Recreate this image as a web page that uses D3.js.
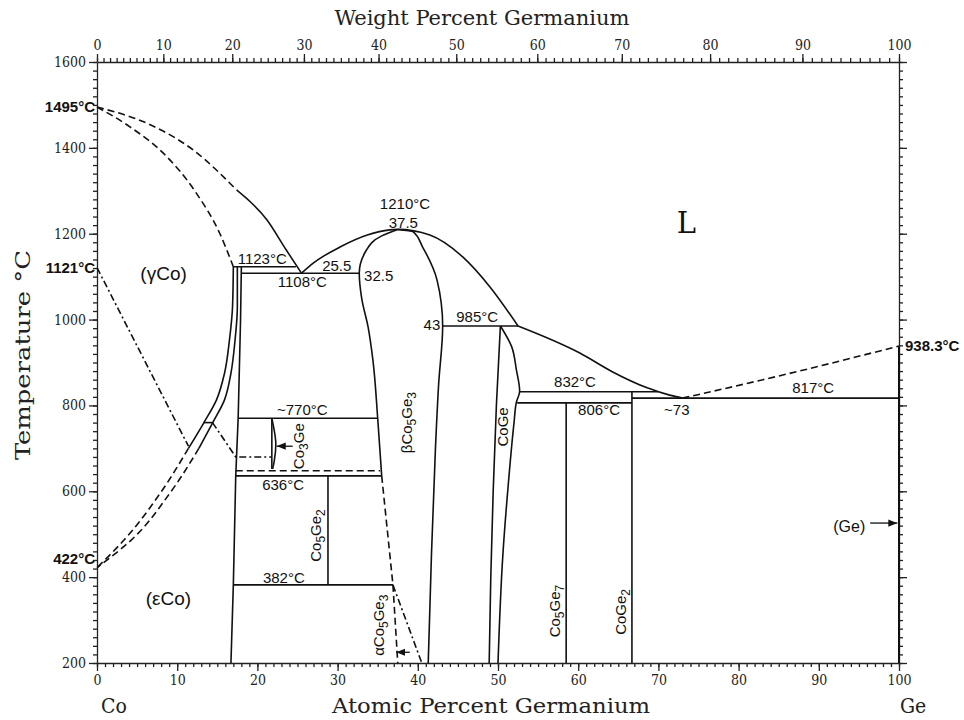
<!DOCTYPE html>
<html>
<head>
<meta charset="utf-8">
<script src="https://cdn.jsdelivr.net/npm/d3@7"></script>
<style>
  body { margin: 0; background: #fff; }
  svg { display: block; }
  .tick text { font-family: "DejaVu Serif Condensed", "DejaVu Serif", serif; font-size: 14px; fill: #222; }
  .domain, .tick line { stroke: #222; stroke-width: 1.3; }
  .ttl { font-family: "DejaVu Serif Condensed", "DejaVu Serif", serif; font-size: 21px; fill: #222; }
  .lbl { font-family: "Liberation Sans", Arial, sans-serif; font-size: 15px; fill: #111; }
  .edge { font-family: "Liberation Sans", Arial, sans-serif; font-size: 15px; font-weight: bold; fill: #111; }
</style>
</head>
<body>
<div id="chart"></div>
<script>
// axis ticks
var atTicks = d3.range(0, 101, 10)
var wtTicks = d3.range(0, 101, 10)
var tempTicks = d3.range(200, 1601, 200)

// phase boundaries, [atomic % Ge, temperature C]
var liquidusCoDashed = [[0,1495],[6.5,1455],[12,1395],[17.4,1302]]
var liquidusCo = [[17.4,1302],[21.2,1232],[23.6,1162],[25.5,1108]]
var solidusCo = [[0,1495],[4.1,1449],[8.3,1387],[12.4,1294],[15.3,1201],[17.0,1123]]
var liquidusMid = [[25.5,1108],[27,1132],[30.3,1169],[33.7,1197],[36.5,1209],[37.5,1210],[41.5,1197],[45.6,1146],[49,1076],[52.5,985]]
var liquidusGe = [[52.5,985],[60.2,922],[64.3,878],[68.6,841],[71.4,824],[73,817]]
var liquidusGeDashed = [[73,817],[86,873],[100,938.3]]
var betaLeft = [[37.5,1210],[35.5,1195],[33.6,1162],[32.7,1108],[33.0,1050],[33.8,983],[34.4,906],[35.0,770],[35.5,636]]
var betaLeftDashed = [[35.5,636],[36.9,382]]
var alphaDashed = [[36.9,382],[37.5,200]]
var alphaDashDot = [[36.9,382],[40.5,200]]
var betaRight = [[37.5,1210],[39.4,1205],[40.6,1169],[42.4,1092],[43.1,985],[42.6,850],[42.2,700],[41.7,450],[41.3,200]]
var coGeLeft = [[50.3,985],[49.8,800],[49.4,600],[49.1,400],[48.9,200]]
var coGeRight = [[50.3,985],[51.7,937],[52.3,882],[52.7,833],[52.3,808],[52.0,760],[51.3,620],[50.6,450],[50.0,200]]
var wall18 = [[18.0,1123],[17.9,1000],[17.6,770],[17.3,636],[17.0,382],[16.7,200]]
var gammaSolvusA = [[17.0,1123],[16.9,1030],[16.5,950],[15.9,875],[14.9,813],[13.3,759],[11.4,700]]
var gammaSolvusB = [[17.5,1123],[17.5,1030],[17.2,950],[16.7,875],[15.9,813],[14.4,759],[12.7,700]]
var gammaDashedA = [[11.4,700],[7.9,596],[3.4,487],[0,422]]
var gammaDashedB = [[12.7,700],[9.1,596],[4.3,487],[0,422]]
var magneticCo = [[0,1121],[11.4,705]]
var eutectoidCo = [[14.4,760],[17.3,680],[21.8,680]]
var co3GeLens = [[21.8,770],[22.2,730],[22.3,710],[22.1,670],[21.9,652]]
var co3GeLine = [[21.8,770],[21.8,652]]
var geLine = [[100,938.3],[100,200]]

// isotherms
var isoT    = [1123, 1108, 985,  832,  806,  817, 770,  636,  382,  760]
var isoFrom = [17.0, 18.0, 43.1, 52.7, 52.4, 66.7, 17.6, 17.3, 17.0, 13.3]
var isoTo   = [24.8, 32.7, 52.5, 70.0, 66.7, 100,  35.0, 35.5, 36.9, 14.4]
var isoDashedT = [648], isoDashedFrom = [17.3], isoDashedTo = [35.3]

// line compounds
var compoundX   = [28.8, 58.5, 66.7]
var compoundTop = [636, 806, 832]
var compoundBot = [382, 200, 200]

var width = 964, height = 720
var svg = d3.select("#chart").append("svg").attr("width", width).attr("height", height)

var x = d3.scaleLinear().domain([0, 100]).range([97, 899])
var y = d3.scaleLinear().domain([200, 1600]).range([663, 62])

// weight % -> atomic % (Co 58.933, Ge 72.63)
function toAtomic(w) {
  var ge = w / 72.63, co = (100 - w) / 58.933
  return 100 * ge / (ge + co)
}
var wtAll = d3.range(0, 101, 1)
var xw = d3.scaleLinear().domain(wtAll).range(wtAll.map(function(w){ return x(toAtomic(w)) }))

// minor ticks first, then major with labels
function minor(g, axis) { g.call(axis.tickFormat("")).select(".domain").remove() }
svg.append("g").attr("transform", "translate(0,663)").call(function(g){ minor(g, d3.axisBottom(x).tickValues(d3.range(0,101,1)).tickSize(4)) })
svg.append("g").attr("transform", "translate(0,62)").call(function(g){ minor(g, d3.axisTop(xw).tickValues(wtAll).tickSize(4)) })
svg.append("g").attr("transform", "translate(97,0)").call(function(g){ minor(g, d3.axisLeft(y).tickValues(d3.range(200,1601,20)).tickSize(4)) })
svg.append("g").attr("transform", "translate(899,0)").call(function(g){ minor(g, d3.axisRight(y).tickValues(d3.range(200,1601,20)).tickSize(4)) })

var fmt = d3.format("d")
svg.append("g").attr("transform", "translate(0,663)")
  .call(d3.axisBottom(x).tickValues(atTicks).tickFormat(fmt).tickSize(8).tickSizeOuter(0).tickPadding(4))
svg.append("g").attr("transform", "translate(0,62)")
  .call(d3.axisTop(xw).tickValues(wtTicks).tickFormat(fmt).tickSize(8).tickSizeOuter(0).tickPadding(4))
svg.append("g").attr("transform", "translate(97,0)")
  .call(d3.axisLeft(y).tickValues(tempTicks).tickFormat(fmt).tickSize(8).tickSizeOuter(0).tickPadding(3))
svg.append("g").attr("transform", "translate(899,0)")
  .call(d3.axisRight(y).tickValues(tempTicks).tickSize(8).tickSizeOuter(0).tickFormat(""))

// axis titles
svg.append("text").attr("class", "ttl").attr("x", 482).attr("y", 25).attr("text-anchor", "middle")
  .attr("textLength", 295).attr("lengthAdjust", "spacingAndGlyphs").text("Weight Percent Germanium")
svg.append("text").attr("class", "ttl").attr("x", 491).attr("y", 713).attr("text-anchor", "middle")
  .attr("textLength", 318).attr("lengthAdjust", "spacingAndGlyphs").text("Atomic Percent Germanium")
svg.append("text").attr("class", "ttl").attr("x", 101).attr("y", 713).text("Co")
svg.append("text").attr("class", "ttl").attr("x", 900).attr("y", 713).text("Ge")
svg.append("text").attr("class", "ttl").attr("transform", "translate(30,355) rotate(-90)").attr("text-anchor", "middle")
  .attr("textLength", 210).attr("lengthAdjust", "spacingAndGlyphs").text("Temperature °C")

// boundaries
function gen(curve) {
  return d3.line().curve(curve).x(function(d){ return x(d[0]) }).y(function(d){ return y(d[1]) })
}
var line = gen(d3.curveLinear), alongX = gen(d3.curveMonotoneX), alongY = gen(d3.curveMonotoneY)

var plot = svg.append("g").attr("fill", "none").attr("stroke", "#111").attr("stroke-width", 1.6)

function draw(data, g, dash) {
  var p = plot.append("path").attr("d", g(data))
  if (dash) p.attr("stroke-dasharray", dash)
  return p
}
var DASH = "7,4", DOTDASH = "7,3,2,3"

draw(liquidusCoDashed, alongX, DASH)
draw(liquidusCo, alongX)
draw(solidusCo, alongX, DASH)
draw(liquidusMid, alongX)
draw(liquidusGe, alongX)
draw(liquidusGeDashed, alongX, DASH)
draw(betaLeft, alongY)
draw(betaLeftDashed, line, DASH)
draw(alphaDashed, line, DASH)
draw(alphaDashDot, line, DOTDASH)
draw(betaRight, alongY)
draw(coGeLeft, alongY)
draw(coGeRight, alongY)
draw(wall18, line)
draw(gammaSolvusA, alongY)
draw(gammaSolvusB, alongY)
draw(gammaDashedA, alongY, DASH)
draw(gammaDashedB, alongY, DASH)
draw(magneticCo, line, DOTDASH)
draw(eutectoidCo, line, DOTDASH)
draw(co3GeLens, alongY)
draw(co3GeLine, line)
draw(geLine, line).attr("stroke-width", 2)

isoT.forEach(function(t, i){
  plot.append("line").attr("x1", x(isoFrom[i])).attr("x2", x(isoTo[i])).attr("y1", y(t)).attr("y2", y(t))
})
isoDashedT.forEach(function(t, i){
  plot.append("line").attr("x1", x(isoDashedFrom[i])).attr("x2", x(isoDashedTo[i])).attr("y1", y(t)).attr("y2", y(t))
    .attr("stroke-dasharray", DASH)
})
compoundX.forEach(function(c, i){
  plot.append("line").attr("x1", x(c)).attr("x2", x(c)).attr("y1", y(compoundTop[i])).attr("y2", y(compoundBot[i]))
})

// arrows
svg.append("defs").append("marker").attr("id", "head").attr("viewBox", "0 0 10 10")
  .attr("refX", 10).attr("refY", 5).attr("markerWidth", 7).attr("markerHeight", 7).attr("orient", "auto")
  .append("path").attr("d", "M0,1L10,5L0,9Z").attr("fill", "#111")
var arrowFrom = [[24.4,705],[39.0,225],[96.4,526]]
var arrowTo   = [[22.4,705],[37.3,225],[99.8,526]]
arrowFrom.forEach(function(a, i){
  svg.append("line").attr("x1", x(a[0])).attr("y1", y(a[1])).attr("x2", x(arrowTo[i][0])).attr("y2", y(arrowTo[i][1]))
    .attr("stroke", "#111").attr("stroke-width", 1.3).attr("marker-end", "url(#head)")
})

// edge temperatures
var edgeText = ["1495°C", "1121°C", "422°C"]
var edgeT = [1495, 1121, 422]
var edgeDy = [5, 5, -4]
edgeText.forEach(function(s, i){
  svg.append("text").attr("class", "edge").attr("x", 95).attr("y", y(edgeT[i]) + edgeDy[i])
    .attr("text-anchor", "end").text(s)
})
svg.append("text").attr("class", "edge").attr("x", 905).attr("y", y(938.3) + 5).text("938.3°C")

// field and point labels: [text, at%, T, anchor]
var labels = [
  ["1210°C", 38.4, 1257, "middle"], ["37.5", 38.2, 1214, "middle"],
  ["1123°C", 20.6, 1129, "middle"], ["25.5", 29.9, 1114, "middle"],
  ["1108°C", 25.6, 1077, "middle"], ["32.5", 33.3, 1090, "start"],
  ["43", 42.8, 976, "end"], ["985°C", 47.4, 994, "middle"],
  ["832°C", 59.6, 843, "middle"], ["806°C", 62.6, 778, "middle"],
  ["~73", 72.3, 777, "middle"], ["817°C", 89.3, 829, "middle"],
  ["~770°C", 25.6, 777, "middle"], ["636°C", 23.2, 603, "middle"],
  ["382°C", 23.3, 386, "middle"]
]
labels.forEach(function(l){
  svg.append("text").attr("class", "lbl").attr("x", x(l[1])).attr("y", y(l[2]))
    .attr("text-anchor", l[3]).text(l[0])
})
svg.append("text").attr("class", "lbl").attr("x", x(8.3)).attr("y", y(1092)).attr("text-anchor", "middle")
  .style("font-size", "19px").text("(γCo)")
svg.append("text").attr("class", "lbl").attr("x", x(8.9)).attr("y", y(335)).attr("text-anchor", "middle")
  .style("font-size", "19px").text("(εCo)")
svg.append("text").attr("class", "lbl").attr("x", x(72.3)).attr("y", y(1202))
  .style("font-family", "DejaVu Serif, serif").style("font-size", "29px").text("L")
svg.append("text").attr("class", "lbl").attr("x", x(93.8)).attr("y", y(506)).attr("text-anchor", "middle")
  .style("font-size", "16px").text("(Ge)")

// rotated compound labels: [parts, at%, T]
var compounds = [
  [["Co","3","Ge"], 25.8, 705],
  [["Co","5","Ge","2"], 27.9, 497],
  [["βCo","5","Ge","3"], 39.3, 760],
  [["αCo","5","Ge","3"], 35.8, 288],
  [["CoGe"], 51.2, 750],
  [["Co","5","Ge","7"], 57.7, 321],
  [["CoGe","2"], 66.0, 319]
]
compounds.forEach(function(c){
  var t = svg.append("text").attr("class", "lbl").attr("text-anchor", "middle")
    .attr("transform", "translate(" + x(c[1]) + "," + y(c[2]) + ") rotate(-90)")
  c[0].forEach(function(part, j){
    var sub = j % 2 == 1
    t.append("tspan").attr("dy", sub ? 4 : (j > 0 ? -4 : 0)).style("font-size", sub ? "12px" : "15px").text(part)
  })
})
</script>
</body>
</html>
